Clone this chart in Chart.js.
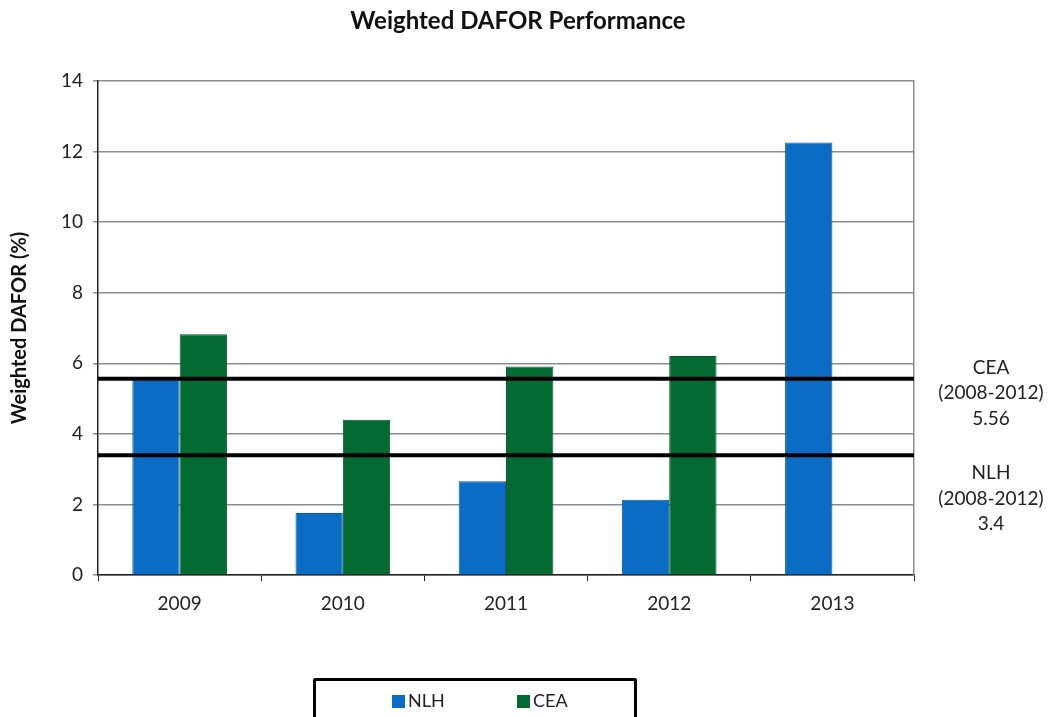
<!DOCTYPE html>
<html>
<head>
<meta charset="utf-8">
<script src="https://cdn.jsdelivr.net/npm/chart.js@4"></script>
<style>
  html, body { margin: 0; padding: 0; background: #fff; }
  #wrap { position: relative; width: 1049px; height: 717px; }
  #legend {
    position: absolute; left: 313px; top: 678px; width: 324px; height: 50px;
    border: 3px solid #000; border-radius: 2px; box-sizing: border-box;
    font-family: Lato, sans-serif; font-size: 18px; color: #222; line-height: 22px;
  }
  #legend span.item { position: absolute; top: 8px; }
  #legend i { display: inline-block; width: 13px; height: 13px; margin-right: 3px; vertical-align: -1px; }
</style>
</head>
<body>
<div id="wrap">
  <canvas id="chart" width="1049" height="717"></canvas>
  <div id="legend"></div>
</div>
<script>
const years = ['2009', '2010', '2011', '2012', '2013'];
const nlhValues = [5.55, 1.76, 2.66, 2.14, 12.25];
const ceaValues = [6.82, 4.40, 5.91, 6.21, null];
const yTicks = [0, 2, 4, 6, 8, 10, 12, 14];

const avgValues = [5.56, 3.4];
const avgLabels = [
  ['CEA', '(2008-2012)', '5.56'],
  ['NLH', '(2008-2012)', '3.4']
];

const blue = '#0a6cc4';
const green = '#036b31';
const fontFamily = 'Lato, sans-serif';

// offset of the first text line from its average line
const labelOffsets = [-11, 18];

const averageLines = {
  id: 'averageLines',
  afterDatasetsDraw(chart) {
    const ctx = chart.ctx;
    const area = chart.chartArea;
    const y = chart.scales.y;
    ctx.save();
    ctx.strokeStyle = '#000';
    ctx.lineWidth = 4;
    avgValues.forEach(v => {
      const py = y.getPixelForValue(v);
      ctx.beginPath();
      ctx.moveTo(area.left, py);
      ctx.lineTo(area.right, py);
      ctx.stroke();
    });

    ctx.fillStyle = '#222';
    ctx.font = '19px ' + fontFamily;
    ctx.textAlign = 'center';
    ctx.textBaseline = 'middle';
    const cx = area.right + 77;
    avgLabels.forEach((lines, i) => {
      const top = y.getPixelForValue(avgValues[i]) + labelOffsets[i];
      lines.forEach((t, j) => {
        ctx.fillText(t, cx, top + j * 25.5);
      });
    });
    ctx.restore();
  }
};

new Chart(document.getElementById('chart'), {
  type: 'bar',
  data: {
    labels: years,
    datasets: [
      {
        label: 'NLH',
        data: nlhValues,
        backgroundColor: blue,
        borderColor: '#0a5aa3',
        borderWidth: 1
      },
      {
        label: 'CEA',
        data: ceaValues,
        backgroundColor: green,
        borderColor: '#02592a',
        borderWidth: 1
      }
    ]
  },
  options: {
    responsive: false,
    animation: false,
    layout: {
      padding: { left: 8, right: 21, top: 5, bottom: 91 }
    },
    datasets: {
      bar: {
        categoryPercentage: 0.58,
        barPercentage: 1
      }
    },
    plugins: {
      legend: { display: false },
      tooltip: { enabled: false },
      title: {
        display: true,
        text: 'Weighted DAFOR Performance',
        color: '#111',
        font: { family: fontFamily, size: 24, weight: 'bold' },
        padding: { top: 2, bottom: 45 }
      }
    },
    scales: {
      x: {
        offset: true,
        grid: {
          offset: true,
          drawOnChartArea: false,
          drawTicks: true,
          tickLength: 6,
          color: '#222'
        },
        border: { color: '#222', width: 1.5 },
        ticks: {
          color: '#222',
          padding: 11,
          font: { family: fontFamily, size: 19 }
        }
      },
      y: {
        min: 0,
        max: 14,
        afterBuildTicks(scale) {
          scale.ticks = yTicks.map(v => ({ value: v }));
        },
        grid: {
          color: '#8c8c8c',
          lineWidth: 1.5,
          tickLength: 5
        },
        border: { color: '#222', width: 1.5 },
        ticks: {
          color: '#222',
          padding: 10,
          font: { family: fontFamily, size: 19 }
        },
        title: {
          display: true,
          text: 'Weighted DAFOR (%)',
          color: '#111',
          font: { family: fontFamily, size: 20, weight: 'bold' },
          padding: { top: 0, bottom: 19 }
        }
      },
      // right frame of the plot, and room for the average labels
      y2: {
        position: 'right',
        min: 0,
        max: 14,
        grid: { drawOnChartArea: false, drawTicks: false },
        ticks: { display: false },
        border: { color: '#8c8c8c', width: 1.5 },
        afterFit(scale) {
          scale.width = 114;
        }
      }
    }
  },
  plugins: [averageLines]
});

const legendEl = document.getElementById('legend');
[['NLH', blue, 76], ['CEA', green, 201]].forEach(([name, color, left]) => {
  const s = document.createElement('span');
  s.className = 'item';
  s.style.left = left + 'px';
  s.innerHTML = '<i style="background:' + color + '"></i>' + name;
  legendEl.appendChild(s);
});
</script>
</body>
</html>
